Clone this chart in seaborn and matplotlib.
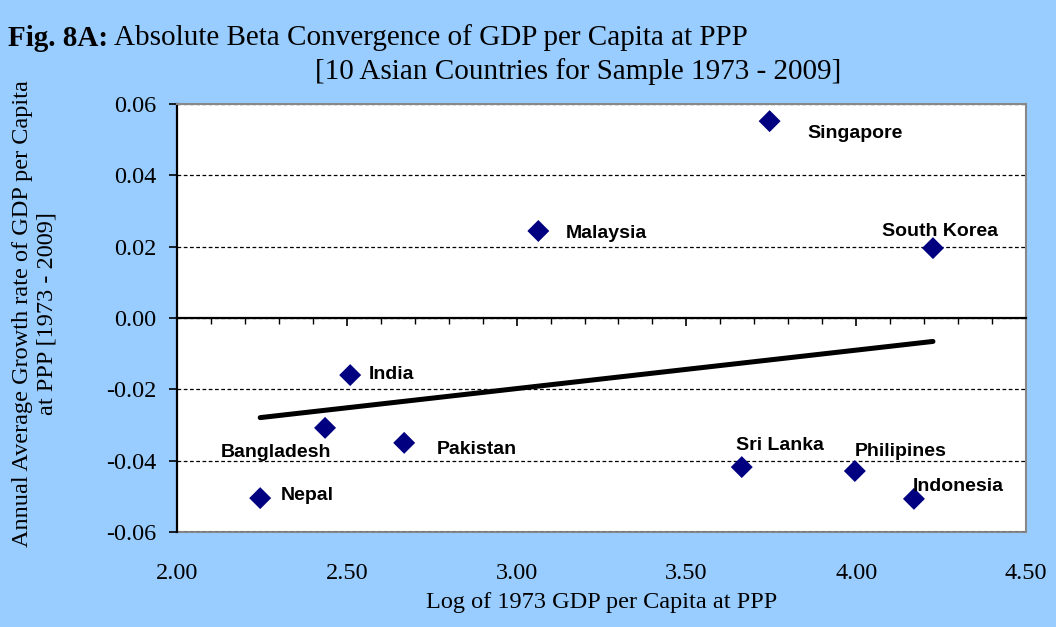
import numpy as np
import pandas as pd
import seaborn as sns
import matplotlib.pyplot as plt
from matplotlib.ticker import MultipleLocator, FixedLocator, FormatStrFormatter

# values
countries = ['Singapore', 'Malaysia', 'South Korea', 'India', 'Bangladesh',
             'Pakistan', 'Sri Lanka', 'Philipines', 'Indonesia', 'Nepal']
log_gdp_1973 = [3.745, 3.064, 4.226, 2.510, 2.436, 2.669, 3.663, 3.996, 4.170, 2.245]
growth_rate = [0.0552, 0.0244, 0.0196, -0.0160, -0.0308, -0.0350, -0.0418, -0.0429, -0.0507, -0.0505]
x_ticks = [2.00, 2.50, 3.00, 3.50, 4.00, 4.50]
y_ticks = [-0.06, -0.04, -0.02, 0.00, 0.02, 0.04, 0.06]

df = pd.DataFrame({'country': countries, 'x': log_gdp_1973, 'y': growth_rate})

# label placement: (dx, dy) in pixels, horizontal alignment
label_pos = {
    'Singapore': (38, -12, 'left'),
    'Malaysia': (27, -3, 'left'),
    'South Korea': (7, 17, 'center'),
    'India': (19, 1, 'left'),
    'Bangladesh': (6, -25, 'right'),
    'Pakistan': (33, -7, 'left'),
    'Sri Lanka': (-6, 22, 'left'),
    'Philipines': (0, 20, 'left'),
    'Indonesia': (-1, 12, 'left'),
    'Nepal': (21, 3, 'left'),
}

sns.set_theme(style='white')
plt.rcParams['font.family'] = ['Liberation Serif', 'DejaVu Serif']

bg = '#99ccff'
fig = plt.figure(figsize=(10.56, 6.27), dpi=100, facecolor=bg)
ax = fig.add_axes([0.1676, 0.1515, 0.804, 0.6826])
ax.set_facecolor('white')

# regression line over the data range
sns.regplot(data=df, x='x', y='y', ax=ax, scatter=False, ci=None, truncate=True,
            line_kws={'color': 'black', 'lw': 3.6, 'solid_capstyle': 'round'})
sns.scatterplot(data=df, x='x', y='y', ax=ax, marker='D', s=125, color='#000080',
                edgecolor='none', zorder=4)

for _, r in df.iterrows():
    dx, dy, ha = label_pos[r['country']]
    ax.annotate(r['country'], (r['x'], r['y']), xytext=(dx, dy), textcoords='offset pixels',
                ha=ha, va='center', fontsize=14, fontweight='bold',
                family=['Liberation Sans', 'DejaVu Sans'], color='black', zorder=5)

ax.set_xlim(x_ticks[0], x_ticks[-1])
ax.set_ylim(y_ticks[0], y_ticks[-1])

# y axis
ax.yaxis.set_major_locator(FixedLocator(y_ticks))
ax.yaxis.set_major_formatter(FormatStrFormatter('%.2f'))
ax.tick_params(axis='y', left=True, direction='out', length=6, width=1.2, color='black',
               labelsize=17.5, pad=9, labelcolor='black')
ax.yaxis.grid(True, color='black', linestyle=(0, (3, 2)), linewidth=0.9)
ax.xaxis.grid(False)

# x axis drawn at y = 0 with ticks, labels on a secondary axis at the bottom
ax.spines['bottom'].set_position(('data', 0))
ax.spines['bottom'].set_color('black')
ax.spines['bottom'].set_linewidth(1.6)
ax.xaxis.set_major_locator(FixedLocator(x_ticks))
ax.xaxis.set_minor_locator(MultipleLocator(0.1))
ax.tick_params(axis='x', which='major', bottom=True, direction='out', length=6, width=1.2,
               color='black', labelbottom=False)
ax.tick_params(axis='x', which='minor', bottom=True, direction='out', length=4, width=1.0,
               color='black')

ax.spines['left'].set_color('black')
ax.spines['left'].set_linewidth(1.6)
ax.spines['top'].set_color('#888888')
ax.spines['top'].set_linestyle((0, (3, 1)))
ax.spines['top'].set_linewidth(1.5)
ax.spines['right'].set_color('#888888')
ax.spines['right'].set_linewidth(1.5)

sec = ax.secondary_xaxis('bottom')
sec.xaxis.set_major_locator(FixedLocator(x_ticks))
sec.xaxis.set_major_formatter(FormatStrFormatter('%.2f'))
sec.tick_params(axis='x', length=0, labelsize=17.5, pad=22, labelcolor='black')
sec.spines['bottom'].set_color('#888888')
sec.spines['bottom'].set_linestyle((0, (3, 1)))
sec.spines['bottom'].set_linewidth(1.5)
sec.set_xlabel('Log of 1973 GDP per Capita at PPP', fontsize=17.5, color='black', labelpad=6)

ax.set_xlabel('')
ax.set_ylabel('Annual Average Growth rate of GDP per Capita\nat PPP [1973 - 2009]',
              fontsize=17.5, color='black', linespacing=1.2)
ax.yaxis.set_label_coords(-0.141, 0.51)

# title: bold prefix followed by regular text
t1 = fig.text(8 / 1056, 1 - 38 / 627, 'Fig. 8A:', fontsize=21, fontweight='bold',
              ha='left', va='center', color='black')
fig.canvas.draw()
bb = t1.get_window_extent()
fig.text((bb.x1 + 6) / 1056, 1 - 38 / 627, 'Absolute Beta Convergence of GDP per Capita at PPP',
         fontsize=21, ha='left', va='center', color='black')
fig.text(578 / 1056, 1 - 72 / 627, '[10 Asian Countries for Sample 1973 - 2009]',
         fontsize=21, ha='center', va='center', color='black')

fig.savefig('out.png', dpi=100, facecolor=bg)
